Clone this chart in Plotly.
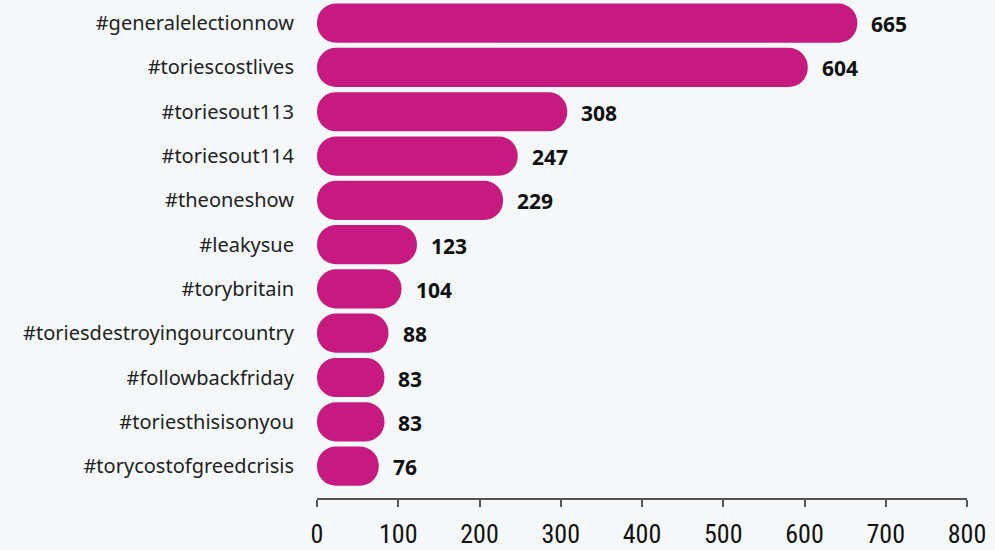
import plotly.graph_objects as go

hashtags = [
    "#generalelectionnow",
    "#toriescostlives",
    "#toriesout113",
    "#toriesout114",
    "#theoneshow",
    "#leakysue",
    "#torybritain",
    "#toriesdestroyingourcountry",
    "#followbackfriday",
    "#toriesthisisonyou",
    "#torycostofgreedcrisis",
]
counts = [665, 604, 308, 247, 229, 123, 104, 88, 83, 83, 76]
tick_values = [0, 100, 200, 300, 400, 500, 600, 700, 800]

bar_color = "#C71A80"
bg = "#F5F9FC"
label_font = "'Noto Sans', Lato, sans-serif"

fig = go.Figure()
# an explicit base makes the bars float, so both ends get the round cap
fig.add_trace(go.Bar(
    x=counts, base=[0] * len(counts), y=hashtags, orientation="h",
    marker=dict(color=bar_color, cornerradius=20, line=dict(width=0)),
    width=0.885,
    hovertemplate="%{y}: %{x}<extra></extra>",
))

# value labels just past the end of each bar
for tag, n in zip(hashtags, counts):
    fig.add_annotation(
        x=n, y=tag, text=f"<b>{n}</b>", showarrow=False,
        xanchor="left", yanchor="middle", xshift=12, yshift=-1,
        font=dict(family=label_font, size=21, color="#111111"),
    )

fig.update_layout(
    width=995, height=550,
    margin=dict(l=317, r=28, t=1, b=43),
    paper_bgcolor=bg, plot_bgcolor=bg,
    showlegend=False,
    xaxis=dict(
        range=[0, 800], tickvals=tick_values,
        showgrid=False, zeroline=False,
        showline=True, linecolor="#555555", linewidth=1.5,
        ticks="outside", ticklen=7, tickcolor="#555555", tickwidth=1.5,
        tickfont=dict(family="'Liberation Sans Narrow', 'Roboto Condensed', Roboto, sans-serif", size=26, color="#111111"),
        ticklabelstandoff=5,
    ),
    yaxis=dict(
        categoryorder="array", categoryarray=hashtags,
        range=[10.72, -0.5],
        showgrid=False, zeroline=False, showline=False,
        ticks="", ticklabelstandoff=22,
        tickfont=dict(family=label_font, size=20, color="#222222"),
    ),
)

fig.write_html("out.html")
